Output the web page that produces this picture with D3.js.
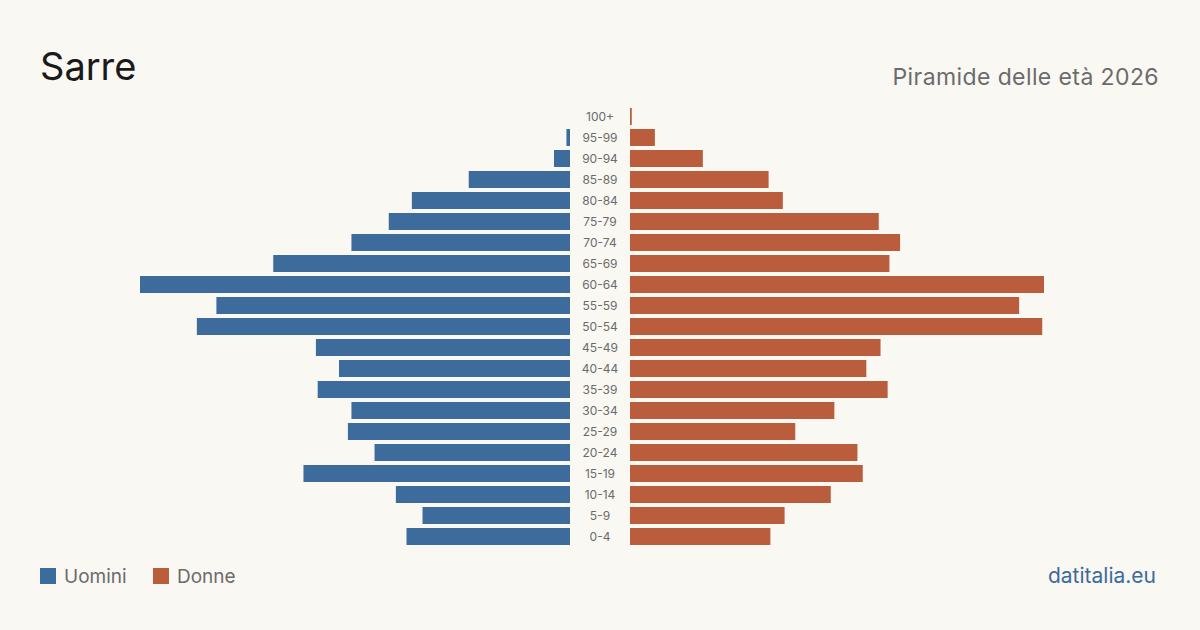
<!DOCTYPE html>
<html lang="it">
  <head>
    <meta charset="UTF-8" />
    <script src="https://d3js.org/d3.v7.min.js"></script>
    <title>Sarre - Piramide delle età 2026</title>
    <style>
      body {
        margin: 0;
        background: #f9f8f3;
      }
      svg text {
        font-family: Inter, 'Noto Sans', sans-serif;
      }
    </style>
  </head>
  <body>
    <script>
      var width = 1200
      var height = 630

      // fasce d'età, dall'alto verso il basso
      var ages = ['100+', '95-99', '90-94', '85-89', '80-84', '75-79', '70-74', '65-69', '60-64', '55-59',
        '50-54', '45-49', '40-44', '35-39', '30-34', '25-29', '20-24', '15-19', '10-14', '5-9', '0-4']
      var men = [0, 2, 9, 57, 89, 102, 123, 167, 242, 199, 210, 143, 130, 142, 123, 125, 110, 150, 98, 83, 92]
      var women = [1, 14, 41, 78, 86, 140, 152, 146, 233, 219, 232, 141, 133, 145, 115, 93, 128, 131, 113, 87, 79]
      var legendLabels = ['Uomini', 'Donne']

      var blue = '#3d6b9b'
      var red = '#b95d3d'

      var svg = d3
        .select('body')
        .append('svg')
        .attr('width', width)
        .attr('height', height)

      svg.append('rect').attr('width', width).attr('height', height).attr('fill', '#f9f8f3')

      var maxVal = d3.max(men.concat(women))

      var yScale = d3
        .scaleBand()
        .domain(ages)
        .range([106, 547])
        .paddingInner(4 / 21)
        .paddingOuter(2 / 21)

      // lunghezza delle barre
      var xScale = d3.scaleLinear().domain([0, maxVal]).range([0, 430])

      var leftEdge = 570
      var rightEdge = 630

      svg
        .append('g')
        .selectAll('rect')
        .data(men)
        .enter()
        .append('rect')
        .attr('x', function (d) {
          return leftEdge - xScale(d)
        })
        .attr('y', function (d, i) {
          return yScale(ages[i])
        })
        .attr('width', function (d) {
          return xScale(d)
        })
        .attr('height', yScale.bandwidth())
        .attr('fill', blue)

      svg
        .append('g')
        .selectAll('rect')
        .data(women)
        .enter()
        .append('rect')
        .attr('x', rightEdge)
        .attr('y', function (d, i) {
          return yScale(ages[i])
        })
        .attr('width', function (d) {
          return xScale(d)
        })
        .attr('height', yScale.bandwidth())
        .attr('fill', red)

      svg
        .append('g')
        .selectAll('text')
        .data(ages)
        .enter()
        .append('text')
        .attr('x', 600)
        .attr('y', function (d) {
          return yScale(d) + yScale.bandwidth() / 2
        })
        .attr('dy', '0.35em')
        .attr('text-anchor', 'middle')
        .attr('font-size', 12)
        .attr('fill', '#6b6b6b')
        .text(function (d) {
          return d
        })

      // titolo
      svg
        .append('text')
        .attr('x', 40)
        .attr('y', 80)
        .attr('font-size', 38)
        .attr('fill', '#1a1a1a')
        .text('Sarre')

      svg
        .append('text')
        .attr('x', 1159)
        .attr('y', 85)
        .attr('text-anchor', 'end')
        .attr('font-size', 23)
        .attr('letter-spacing', 0.4)
        .attr('fill', '#6b6b6b')
        .text('Piramide delle età 2026')

      // legenda
      var legend = svg
        .append('g')
        .selectAll('g')
        .data(legendLabels)
        .enter()
        .append('g')
        .attr('transform', function (d, i) {
          return 'translate(' + (40 + i * 113) + ',568)'
        })

      legend
        .append('rect')
        .attr('width', 16)
        .attr('height', 16)
        .attr('fill', function (d, i) {
          return i === 0 ? blue : red
        })

      legend
        .append('text')
        .attr('x', 24)
        .attr('y', 15)
        .attr('font-size', 19)
        .attr('fill', '#6b6b6b')
        .text(function (d) {
          return d
        })

      svg
        .append('text')
        .attr('x', 1156)
        .attr('y', 583)
        .attr('text-anchor', 'end')
        .attr('font-size', 21)
        .attr('fill', blue)
        .text('datitalia.eu')
    </script>
  </body>
</html>
